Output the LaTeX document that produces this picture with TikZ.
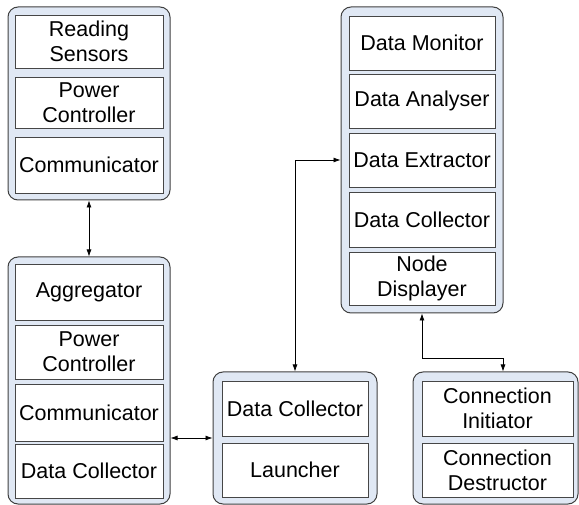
\documentclass[tikz,border=0pt]{standalone}
\usepackage{fontspec}
\setmainfont{Liberation Sans}
\usetikzlibrary{arrows.meta}
\definecolor{unitfill}{RGB}{224,232,244}
\definecolor{partline}{RGB}{70,70,70}
\newcommand{\fs}{\fontsize{21.5}{25}\selectfont}
\tikzset{
  unit/.style={draw=black!75, fill=unitfill, line width=1pt, rounded corners=10, inner sep=0},
  part/.style={draw=partline, fill=white, line width=0.9pt, inner sep=0, align=center, font=\fs},
  link/.style={{Latex[length=7,width=5]}-{Latex[length=7,width=5]}, line width=0.7pt}
}
\begin{document}
\begin{tikzpicture}[x=1pt,y=-1pt]
\useasboundingbox (0,0) rectangle (579,505);
% sensor node
\node[unit, minimum width=162, minimum height=193] (sens) at (89,103.5) {};
\node[part, minimum width=148, minimum height=53] (read) at (89,41.5) {Reading\\Sensors};
\node[part, minimum width=148, minimum height=51] (pow1) at (89,102.5) {Power\\Controller};
\node[part, minimum width=148, minimum height=56] (com1) at (89,165) {Communicator};
% aggregator node
\node[unit, minimum width=162, minimum height=247] (agg) at (89,380.5) {};
\node[part, minimum width=148, minimum height=56] (aggr) at (89,292) {Aggregator};
\node[part, minimum width=148, minimum height=54] (pow2) at (89,352) {Power\\Controller};
\node[part, minimum width=148, minimum height=57] (com2) at (89,412.5) {Communicator};
\node[part, minimum width=148, minimum height=54] (col1) at (89,471) {Data Collector};
% gateway
\node[unit, minimum width=164, minimum height=132] (gw) at (295,438) {};
\node[part, minimum width=146, minimum height=55] (col2) at (295,408.5) {Data Collector};
\node[part, minimum width=146, minimum height=54] (laun) at (295,470) {Launcher};
% connection unit
\node[unit, minimum width=165, minimum height=132] (conn) at (495.5,438) {};
\node[part, minimum width=151, minimum height=55] (init) at (497.5,408.5) {Connection\\Initiator};
\node[part, minimum width=151, minimum height=54] (dest) at (497.5,470) {Connection\\Destructor};
% monitor
\node[unit, minimum width=162, minimum height=306] (mon) at (422,160) {};
\node[part, minimum width=146, minimum height=54] (dmon) at (422,43) {Data Monitor};
\node[part, minimum width=146, minimum height=54] (anal) at (422,101) {Data Analyser};
\node[part, minimum width=146, minimum height=54] (extr) at (422,160) {Data Extractor};
\node[part, minimum width=146, minimum height=55] (col3) at (422,219.5) {Data Collector};
\node[part, minimum width=146, minimum height=53] (disp) at (422,278.5) {Node\\Displayer};
% links
\coordinate (bend) at (503,358);
\draw[link] (sens.south) -- (agg.north);
\draw[link] (gw.west -| agg.east) -- (gw.west);
\draw[link] (gw.north) |- (extr.west -| mon.west);
\draw[link] (mon.south) |- (bend) -- (bend |- conn.north);
\end{tikzpicture}
\end{document}
